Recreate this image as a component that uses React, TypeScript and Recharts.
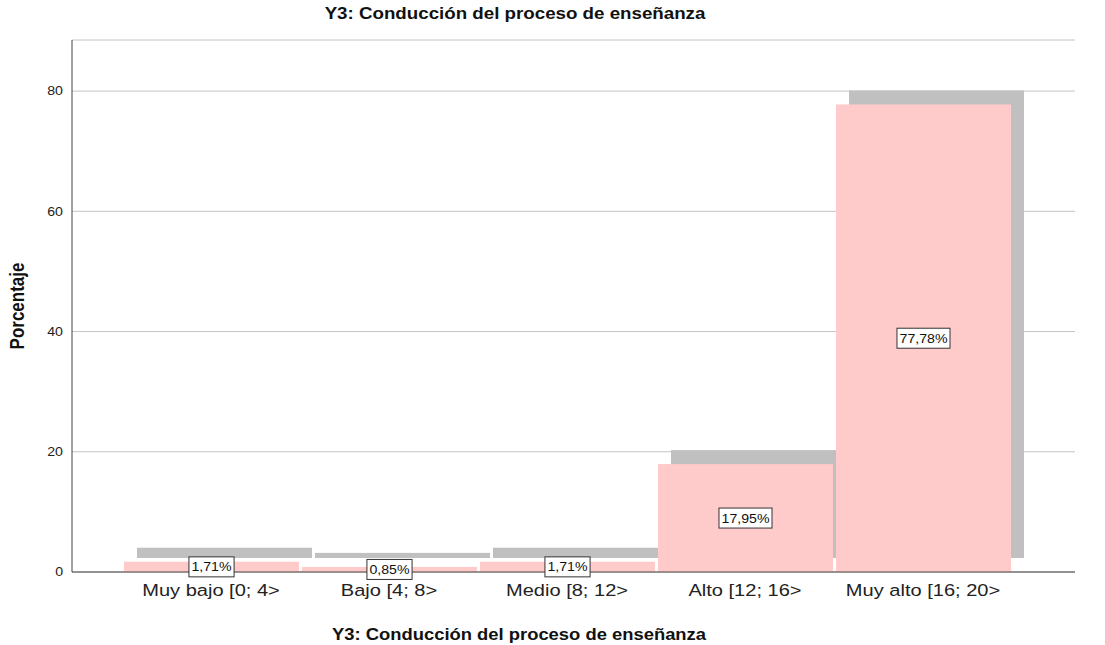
import { Bar, BarChart, CartesianGrid, Label, LabelList, XAxis, YAxis } from "recharts";

const categories = ["Muy bajo [0; 4>", "Bajo [4; 8>", "Medio [8; 12>", "Alto [12; 16>", "Muy alto [16; 20>"];
const percentages = [1.71, 0.85, 1.71, 17.95, 77.78];
const yTicks = [0, 20, 40, 60, 80];

const data = categories.map((name, i) => ({ name, value: percentages[i] }));

const FONT = "'Liberation Sans', Arial, sans-serif";
const PINK = "#ffcaca";
const SHADOW = "#c0c0c0";
// text in the source looks horizontally stretched a bit
const SX = 1.18;

// rough Arial advance widths, just for sizing the label boxes
const charW = (c: string) => (c === "," ? 0.278 : c === "%" ? 0.889 : 0.556);

const SText = ({ x, y, sx = SX, rotate, children, ...rest }: any) => (
  <text
    transform={`translate(${x},${y}) scale(${sx},1)${rotate ? ` rotate(${rotate})` : ""}`}
    fontFamily={FONT}
    fill="#111"
    {...rest}
  >
    {children}
  </text>
);

// SPSS-style bar with a gray drop shadow up and to the right
const ShadowBar = (props: any) => {
  const { x, y, width, height } = props;
  return (
    <g>
      <rect x={x + 13} y={y - 14} width={width} height={height} fill={SHADOW} />
      <rect x={x} y={y} width={width} height={height} fill={PINK} />
    </g>
  );
};

const BoxLabel = (props: any) => {
  const { x, y, width, height, value } = props;
  const text = `${Number(value).toFixed(2).replace(".", ",")}%`;
  const cx = x + width / 2;
  const cy = y + height / 2;
  const tw = text.split("").reduce((s, c) => s + charW(c), 0) * 12 * SX;
  const w = tw + 5;
  return (
    <g>
      <rect x={cx - w / 2} y={cy - 10} width={w} height={20} fill="#fff" stroke="#333" strokeWidth={1} />
      <SText x={cx} y={cy + 4.5} textAnchor="middle" fontSize={12}>
        {text}
      </SText>
    </g>
  );
};

const XTick = ({ x, y, payload }: any) => (
  <SText x={x} y={y} dy="0.71em" textAnchor="middle" fontSize={17} fill="#222">
    {payload.value}
  </SText>
);

const YTick = ({ x, y, payload }: any) => (
  <SText x={x} y={y} dy="0.355em" textAnchor="end" fontSize={12} fill="#222">
    {payload.value}
  </SText>
);

export default function App() {
  return (
    <div style={{ position: "absolute", left: 0, top: 0, width: 1105, height: 645, background: "#fff", fontFamily: FONT }}>
      <div
        style={{
          position: "absolute",
          left: 0,
          width: 1030,
          top: 5,
          textAlign: "center",
          fontSize: 16,
          fontWeight: "bold",
          color: "#111",
          transform: "scaleX(1.17)",
          transformOrigin: "515px 0",
        }}
      >
        Y3: Conducción del proceso de enseñanza
      </div>
      <BarChart width={1105} height={645} data={data} margin={{ top: 40, right: 30, bottom: 0, left: 0 }} barSize={175}>
        <CartesianGrid vertical={false} stroke="#c4c4c4" />
        <XAxis
          dataKey="name"
          height={73}
          padding={{ left: 50, right: 63 }}
          stroke="#444"
          tickLine={false}
          tickSize={6}
          tickMargin={6}
          tick={<XTick />}
        >
          <Label
            content={() => (
              <SText x={519} y={640} sx={1.15} textAnchor="middle" fontSize={16} fontWeight="bold">
                Y3: Conducción del proceso de enseñanza
              </SText>
            )}
          />
        </XAxis>
        <YAxis
          width={72}
          domain={[0, 88.5]}
          ticks={yTicks}
          stroke="#444"
          tickLine={false}
          tickSize={6}
          tickMargin={3}
          tick={<YTick />}
        >
          <Label
            content={() => (
              <SText x={24} y={306} rotate={-90} textAnchor="middle" fontSize={17} fontWeight="bold">
                Porcentaje
              </SText>
            )}
          />
        </YAxis>
        <Bar dataKey="value" shape={<ShadowBar />} isAnimationActive={false}>
          <LabelList dataKey="value" content={<BoxLabel />} />
        </Bar>
      </BarChart>
    </div>
  );
}
